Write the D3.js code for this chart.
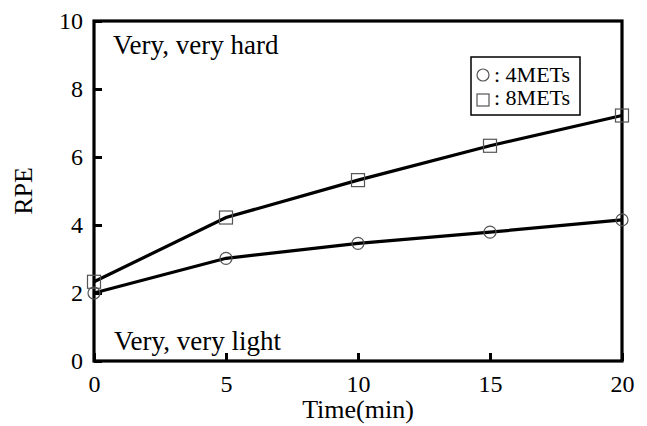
<!DOCTYPE html>
<html>
<head>
<meta charset="utf-8">
<script src="https://cdn.jsdelivr.net/npm/d3@7"></script>
<style>
  body { margin: 0; background: #fff; }
  svg { display: block; }
  svg text { font-family: "Liberation Serif", "Times New Roman", serif; fill: #000; }
</style>
</head>
<body>
<svg id="chart" width="647" height="426"></svg>
<script>
// data
const times = [0, 5, 10, 15, 20];
const mets4 = [2.0, 3.02, 3.46, 3.79, 4.15];
const mets8 = [2.33, 4.22, 5.32, 6.33, 7.22];
const xTicks = [0, 5, 10, 15, 20];
const yTicks = [0, 2, 4, 6, 8, 10];
const seriesNames = ['4METs', '8METs'];

const margin = {left: 94, right: 25, top: 21, bottom: 65};
const width = 647, height = 426;

const svg = d3.select('#chart');

let x = d3.scaleLinear().domain([0, 20]).range([margin.left, width - margin.right]);
let y = d3.scaleLinear().domain([0, 10]).range([height - margin.bottom, margin.top]);

// y axis, ticks point inward
svg.append('g')
    .attr('transform', `translate(${margin.left},0)`)
    .call(d3.axisLeft(y).tickValues(yTicks).tickSize(-8).tickSizeOuter(0).tickPadding(11))
    .call(g => g.select('.domain').remove())
    .call(g => g.selectAll('line').attr('stroke', '#000').attr('stroke-width', 3))
    .call(g => g.selectAll('text').style('font-size', '24px').style('font-family', '"Liberation Serif", serif'));

// x axis
svg.append('g')
    .attr('transform', `translate(0,${y(0)})`)
    .call(d3.axisBottom(x).tickValues(xTicks).tickSize(-8).tickSizeOuter(0).tickPadding(14))
    .call(g => g.select('.domain').remove())
    .call(g => g.selectAll('line').attr('stroke', '#000').attr('stroke-width', 3))
    .call(g => g.selectAll('text').style('font-size', '24px').style('font-family', '"Liberation Serif", serif'));

// frame
svg.append('rect')
    .attr('x', x(0)).attr('y', y(10))
    .attr('width', x(20) - x(0)).attr('height', y(0) - y(10))
    .attr('fill', 'none').attr('stroke', '#000').attr('stroke-width', 3.2);

const line = d3.line().x((d, i) => x(times[i])).y(d => y(d));

[mets4, mets8].forEach(s => {
    svg.append('path').datum(s)
        .attr('d', line)
        .attr('fill', 'none')
        .attr('stroke', '#000')
        .attr('stroke-width', 3.2);
});

// markers
svg.append('g').selectAll('circle')
    .data(mets4)
    .join('circle')
    .attr('cx', (d, i) => x(times[i]))
    .attr('cy', d => y(d))
    .attr('r', 6)
    .attr('fill', 'none')
    .attr('stroke', '#555')
    .attr('stroke-width', 1.2);

svg.append('g').selectAll('rect')
    .data(mets8)
    .join('rect')
    .attr('x', (d, i) => x(times[i]) - 6.5)
    .attr('y', d => y(d) - 6.5)
    .attr('width', 13).attr('height', 13)
    .attr('fill', 'none')
    .attr('stroke', '#555')
    .attr('stroke-width', 1.2);

// annotations
svg.append('text').attr('x', 113).attr('y', 54)
    .style('font-size', '27px').text('Very, very hard');
svg.append('text').attr('x', 114).attr('y', 350)
    .style('font-size', '27px').text('Very, very light');

// legend
const legend = svg.append('g');
legend.append('rect')
    .attr('x', 471).attr('y', 57).attr('width', 109).attr('height', 58)
    .attr('fill', '#fff').attr('stroke', '#000').attr('stroke-width', 1.5);
legend.append('circle').attr('cx', 483).attr('cy', 75).attr('r', 6)
    .attr('fill', 'none').attr('stroke', '#555').attr('stroke-width', 1.2);
legend.append('rect').attr('x', 477).attr('y', 94).attr('width', 12).attr('height', 12)
    .attr('fill', 'none').attr('stroke', '#555').attr('stroke-width', 1.2);
legend.selectAll('text.lg')
    .data(seriesNames)
    .join('text')
    .attr('class', 'lg')
    .attr('x', 494)
    .attr('y', (d, i) => 82 + i * 23)
    .style('font-size', '22px')
    .text(d => ': ' + d);

// axis titles
svg.append('text')
    .attr('x', (x(0) + x(20)) / 2).attr('y', 418)
    .attr('text-anchor', 'middle').style('font-size', '26px')
    .text('Time(min)');
svg.append('text')
    .attr('transform', `translate(32,${(y(0) + y(10)) / 2}) rotate(-90)`)
    .attr('text-anchor', 'middle').style('font-size', '26px')
    .text('RPE');
</script>
</body>
</html>
